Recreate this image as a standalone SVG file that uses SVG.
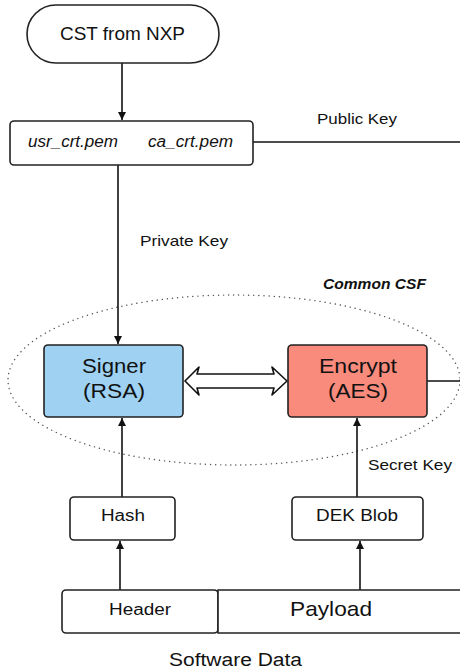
<svg xmlns="http://www.w3.org/2000/svg" width="460" height="671" viewBox="0 0 460 671">
<style>
text{font-family:"Liberation Sans",Arial,sans-serif;fill:#111}
.box{fill:#fff;stroke:#222;stroke-width:1.6}
.ln{stroke:#111;stroke-width:1.6;fill:none}
.it{font-style:italic;font-size:16px}
.lbl{font-size:15px}
</style>
<defs>
<marker id="ah" viewBox="0 0 10 10" refX="10" refY="5" markerWidth="8" markerHeight="10" markerUnits="userSpaceOnUse" orient="auto">
<path d="M0,0 L10,5 L0,10 z" fill="#111"/>
</marker>
</defs>
<rect width="460" height="671" fill="#fff"/>
<g id="csf">
<ellipse cx="234" cy="380" rx="226" ry="85" fill="none" stroke="#555" stroke-width="1.4" stroke-dasharray="0.1 5" stroke-linecap="round"/>
<text x="323" y="289" font-size="14" font-weight="bold" font-style="italic" textLength="103" lengthAdjust="spacingAndGlyphs">Common CSF</text>
</g>
<g id="connectors">
<line class="ln" x1="122" y1="63" x2="122" y2="120" marker-end="url(#ah)"/>
<line class="ln" x1="253" y1="142" x2="460" y2="142"/>
<line class="ln" x1="118" y1="165" x2="118" y2="344" marker-end="url(#ah)"/>
<line class="ln" x1="427" y1="381" x2="460" y2="381"/>
<line class="ln" x1="122" y1="497" x2="122" y2="418" marker-end="url(#ah)"/>
<line class="ln" x1="357" y1="497" x2="357" y2="418" marker-end="url(#ah)"/>
<line class="ln" x1="120" y1="590" x2="120" y2="541" marker-end="url(#ah)"/>
<line class="ln" x1="360" y1="590" x2="360" y2="541" marker-end="url(#ah)"/>
<path d="M185,381 L199,367 L197,374 L274,374 L272,367 L287,381 L272,395 L274,388 L197,388 L199,395 Z" fill="#fff" stroke="#111" stroke-width="1.6" stroke-linejoin="round"/>
<text class="lbl" x="317" y="124" textLength="80" lengthAdjust="spacingAndGlyphs">Public Key</text>
<text class="lbl" x="140" y="246" textLength="88" lengthAdjust="spacingAndGlyphs">Private Key</text>
<text class="lbl" x="368" y="470" textLength="84" lengthAdjust="spacingAndGlyphs">Secret Key</text>
</g>
<g id="cst">
<rect class="box" x="27" y="5" width="192" height="58" rx="29"/>
<text x="60" y="40" font-size="18" textLength="125" lengthAdjust="spacingAndGlyphs">CST from NXP</text>
</g>
<g id="certs">
<rect class="box" x="10" y="121" width="243" height="44" rx="4"/>
<text class="it" x="28" y="147" textLength="90" lengthAdjust="spacingAndGlyphs">usr_crt.pem</text>
<text class="it" x="148" y="147" textLength="85" lengthAdjust="spacingAndGlyphs">ca_crt.pem</text>
</g>
<g id="signer">
<rect x="44" y="345" width="139" height="72" rx="4" fill="#9ed1f2" stroke="#222" stroke-width="1.6"/>
<text x="82" y="373" font-size="20" textLength="64" lengthAdjust="spacingAndGlyphs">Signer</text>
<text x="83" y="398" font-size="20" textLength="62" lengthAdjust="spacingAndGlyphs">(RSA)</text>
</g>
<g id="encrypt">
<rect x="288" y="345" width="139" height="72" rx="4" fill="#f98b7d" stroke="#222" stroke-width="1.6"/>
<text x="319" y="373" font-size="20" textLength="78" lengthAdjust="spacingAndGlyphs">Encrypt</text>
<text x="328" y="398" font-size="20" textLength="60" lengthAdjust="spacingAndGlyphs">(AES)</text>
</g>
<g id="hash">
<rect class="box" x="70" y="497" width="105" height="43" rx="4"/>
<text x="101" y="521" font-size="16" textLength="44" lengthAdjust="spacingAndGlyphs">Hash</text>
</g>
<g id="dekblob">
<rect class="box" x="292" y="497" width="131" height="43" rx="4"/>
<text x="316" y="521" font-size="16" textLength="82" lengthAdjust="spacingAndGlyphs">DEK Blob</text>
</g>
<g id="header">
<rect class="box" x="62" y="590" width="156" height="43" rx="4"/>
<text x="109" y="615" font-size="16" textLength="62" lengthAdjust="spacingAndGlyphs">Header</text>
</g>
<g id="payload">
<path class="box" d="M462,590 L218,590 L218,633 L462,633"/>
<text x="290" y="616" font-size="21" textLength="82" lengthAdjust="spacingAndGlyphs">Payload</text>
</g>
<g id="software">
<text x="169" y="666" font-size="18" textLength="133" lengthAdjust="spacingAndGlyphs">Software Data</text>
</g>
</svg>
